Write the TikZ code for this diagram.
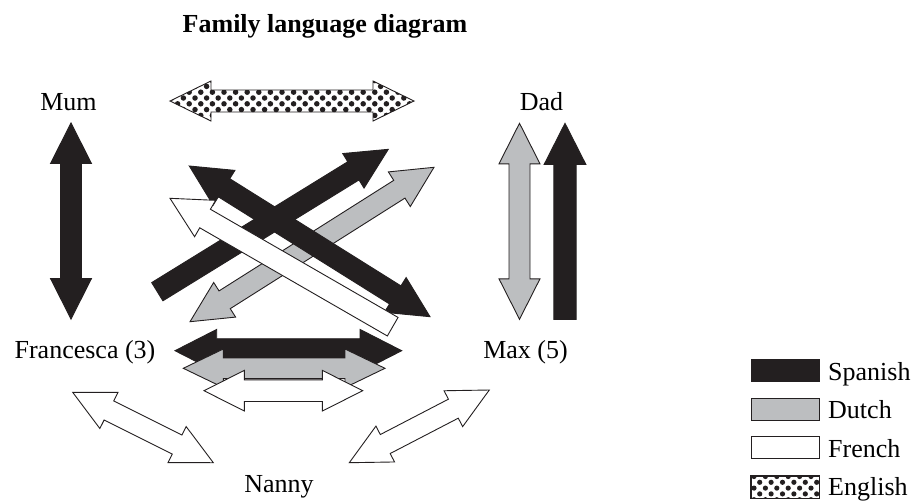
\documentclass[tikz,border=0pt]{standalone}
\usepackage{fontspec}
\setmainfont{Liberation Serif}
\definecolor{ink}{RGB}{35,31,32}
\definecolor{grayfill}{RGB}{188,190,192}
\tikzset{
  blk/.style={fill=ink, draw=ink, line width=0.9pt, line join=miter},
  gry/.style={fill=grayfill, draw=ink, line width=0.9pt, line join=miter},
  wht/.style={fill=white, draw=ink, line width=0.9pt, line join=miter},
  lbl/.style={font=\fontsize{26}{30}\selectfont, anchor=base, inner sep=0pt},
  swatch/.style={draw=ink, line width=0.9pt, minimum width=68pt, minimum height=22pt, inner sep=0pt},
}
% double arrow: style, x1, y1, x2, y2, shaft half width, head half width, head length
\newcommand\DblArrow[8]{%
  \pgfmathsetmacro\aDX{#4-#2}\pgfmathsetmacro\aDY{#5-#3}%
  \pgfmathsetmacro\aLen{veclen(\aDX,\aDY)}%
  \pgfmathsetmacro\aAng{atan2(-\aDY,\aDX)}%
  \begin{scope}[shift={(#2,#3)},rotate=\aAng]
    \path[#1] (0,0) -- (#8,#7) -- (#8,#6) -- (\aLen-#8,#6) -- (\aLen-#8,#7) -- (\aLen,0)
      -- (\aLen-#8,-#7) -- (\aLen-#8,-#6) -- (#8,-#6) -- (#8,-#7) -- cycle;
  \end{scope}}
% single arrow: style, tail x, tail y, tip x, tip y, shaft half width, head half width, head length
\newcommand\OneArrow[8]{%
  \pgfmathsetmacro\aDX{#4-#2}\pgfmathsetmacro\aDY{#5-#3}%
  \pgfmathsetmacro\aLen{veclen(\aDX,\aDY)}%
  \pgfmathsetmacro\aAng{atan2(-\aDY,\aDX)}%
  \begin{scope}[shift={(#2,#3)},rotate=\aAng]
    \path[#1] (0,#6) -- (\aLen-#8,#6) -- (\aLen-#8,#7) -- (\aLen,0)
      -- (\aLen-#8,-#7) -- (\aLen-#8,-#6) -- (0,-#6) -- cycle;
  \end{scope}}
\begin{document}
\begin{tikzpicture}[x=1pt,y=-1pt]
\useasboundingbox (0,0) rectangle (913,501);

% labels
\node[lbl, font=\fontsize{26}{30}\selectfont\bfseries] (title) at (325,32.5) {Family language diagram};
\node[lbl] (mum) at (68.5,110) {Mum};
\node[lbl] (dad) at (541.5,110) {Dad};
\node[lbl] (fran) at (85,358) {Francesca (3)};
\node[lbl] (max) at (525.5,358.5) {Max (5)};
\node[lbl] (nanny) at (279,492) {Nanny};

% English (dotted) arrow between Mum and Dad
\begin{scope}
  \clip (170,101) -- (211,81) -- (211,90) -- (373,90) -- (373,81) -- (414,101)
    -- (373,121) -- (373,112) -- (211,112) -- (211,121) -- cycle;
  \fill[white] (160,75) rectangle (420,125);
  \foreach \i in {0,...,22} {\foreach \j in {0,...,7} {
    \fill[ink] ({166+11.6*\i+5.8*mod(\j,2)},{80.6+5.8*\j}) circle[radius=2.75pt];}}
\end{scope}
\draw[draw=ink, line width=0.9pt] (170,101) -- (211,81) -- (211,90) -- (373,90) -- (373,81) -- (414,101)
    -- (373,121) -- (373,112) -- (211,112) -- (211,121) -- cycle;

% Mum - Francesca
\DblArrow{blk}{71}{123}{71}{319}{10.5}{20.5}{40.5}
% Dad - Max
\DblArrow{gry}{519.5}{123.3}{519.5}{319.3}{10.5}{20.5}{40.5}
\OneArrow{blk}{565}{319.3}{565}{123.3}{11.2}{20.8}{41}

% diagonal arrows
\DblArrow{gry}{190}{321.7}{434}{167.3}{10.5}{20.5}{41}
\DblArrow{blk}{189.3}{166}{430}{316.7}{10.7}{20.5}{41}
\OneArrow{blk}{157.3}{291.7}{388.3}{149.3}{10.7}{20.3}{41}
\OneArrow{wht}{392.7}{326.7}{170}{198.3}{10.7}{21}{40.5}

% Francesca - Max horizontal arrows
\DblArrow{blk}{175}{350.7}{401.7}{350.7}{12}{21.3}{41.7}
\DblArrow{gry}{183.3}{368.3}{385}{368.3}{10.3}{19.3}{40}
\DblArrow{wht}{204}{390.7}{362.7}{390.7}{10.8}{20.3}{40.3}

% Nanny arrows
\DblArrow{wht}{72.7}{392.3}{213.3}{462.7}{10.7}{20.2}{40.5}
\DblArrow{wht}{349.3}{462.7}{489.3}{390}{10.7}{20.2}{40.5}

% legend
\node[swatch, fill=ink] (swS) at (785,370.5) {};
\node[swatch, fill=grayfill] (swD) at (785,409) {};
\node[swatch, fill=white] (swF) at (785,447.5) {};
\node[swatch] (swE) at (785,487) {};
\begin{scope}
  \clip (swE.south west) rectangle (swE.north east);
  \foreach \i in {0,...,6} {\foreach \j in {0,...,4} {
    \fill[ink] ({754+11.4*\i+5.7*mod(\j,2)},{476.5+5.8*\j}) circle[radius=2.6pt];}}
\end{scope}
\draw[draw=ink, line width=0.9pt] (swE.south west) rectangle (swE.north east);
\node[lbl, anchor=base west] (tS) at (828,380) {Spanish};
\node[lbl, anchor=base west] (tD) at (828,418.5) {Dutch};
\node[lbl, anchor=base west] (tF) at (828,457) {French};
\node[lbl, anchor=base west] (tE) at (828,495) {English};
\end{tikzpicture}
\end{document}
